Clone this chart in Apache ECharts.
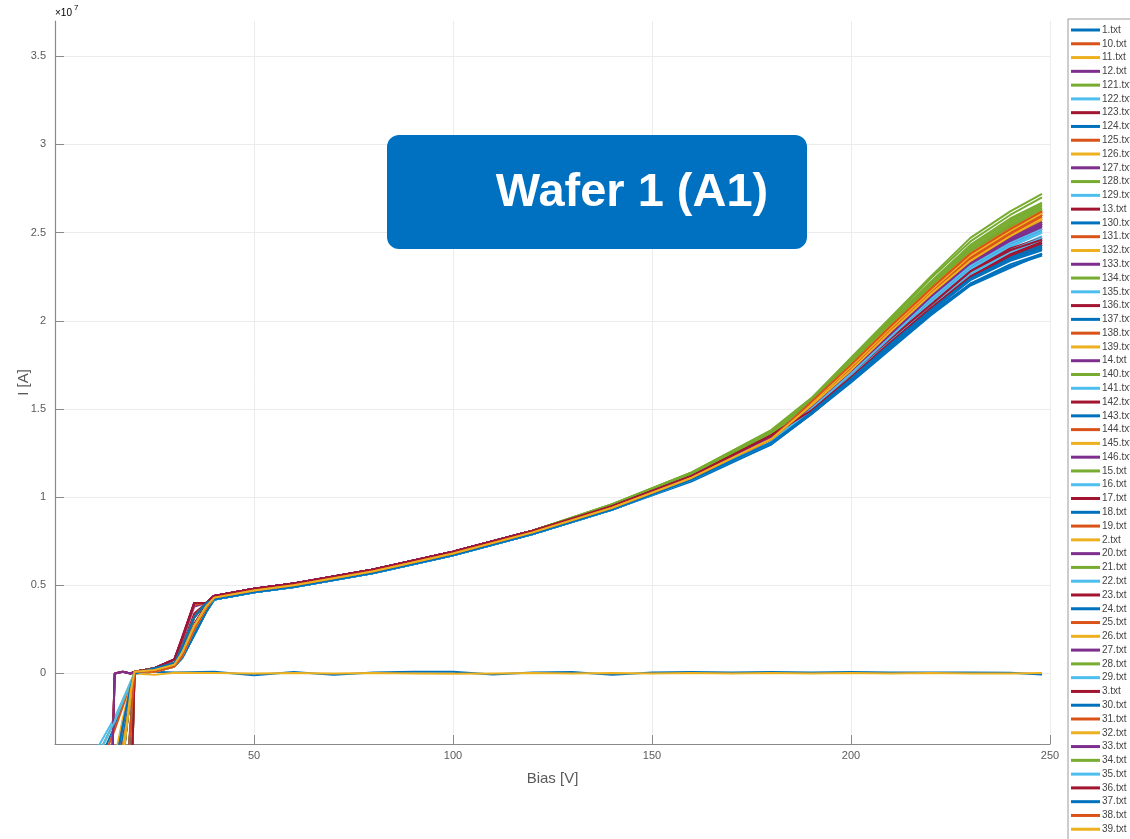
<!DOCTYPE html>
<html>
<head>
<meta charset="utf-8">
<title>Wafer 1 (A1) – I-V curves</title>
<script src="https://cdn.jsdelivr.net/npm/echarts@6/dist/echarts.min.js"></script>
<style>
  html, body { margin: 0; padding: 0; background: #ffffff; }
  #chart { width: 1130px; height: 839px; }
</style>
</head>
<body>
<div id="chart"></div>
<script>
// Measurement files, in the order the legend lists them
const fileNames = [
  '1.txt','10.txt','11.txt','12.txt','121.txt','122.txt','123.txt','124.txt','125.txt','126.txt',
  '127.txt','128.txt','129.txt','13.txt','130.txt','131.txt','132.txt','133.txt','134.txt','135.txt',
  '136.txt','137.txt','138.txt','139.txt','14.txt','140.txt','141.txt','142.txt','143.txt','144.txt',
  '145.txt','146.txt','15.txt','16.txt','17.txt','18.txt','19.txt','2.txt','20.txt','21.txt',
  '22.txt','23.txt','24.txt','25.txt','26.txt','27.txt','28.txt','29.txt','3.txt','30.txt',
  '31.txt','32.txt','33.txt','34.txt','35.txt','36.txt','37.txt','38.txt','39.txt'
];

// Bias points [V] of the working devices
const bias = [10, 15, 17, 19, 20, 25, 30, 32, 35, 38, 40, 50, 60, 80, 100, 120, 140, 160, 180, 190, 200, 210, 220, 230, 240, 248];

// Current [x1e7 A], one row per file (null = device without breakdown curve, see below)
const current = [
  [-0.50,-0.27,-0.16,-0.05,0.00, 0.02,0.04,0.09,0.22,0.35, 0.42,0.46,0.49,0.57,0.67,0.79,0.93,1.10,1.31, 1.47,1.66,1.85,2.04,2.21,2.31,2.37],
  [-1.20,-0.55,-0.30,-0.08,0.01, 0.02,0.05,0.12,0.27,0.38, 0.43,0.47,0.50,0.58,0.68,0.80,0.94,1.11,1.33, 1.53,1.74,1.96,2.17,2.37,2.51,2.61],
  [-2.50,-1.20,-0.50,-0.10,0.01, 0.01,0.04,0.10,0.25,0.37, 0.43,0.47,0.50,0.58,0.68,0.80,0.94,1.11,1.32, 1.51,1.71,1.93,2.14,2.33,2.47,2.57],
  [-4.00,0.00,0.01,0.00,0.01, 0.03,0.08,0.20,0.40,0.40, 0.44,0.48,0.51,0.59,0.69,0.81,0.95,1.12,1.34, 1.51,1.71,1.92,2.13,2.32,2.46,2.55],
  [-1.80,-0.80,-0.42,-0.15,0.00, 0.03,0.06,0.15,0.32,0.40, 0.43,0.47,0.50,0.58,0.68,0.80,0.95,1.13,1.37, 1.55,1.76,1.98,2.20,2.40,2.54,2.63],
  [-3.00,-1.50,-0.90,-0.30,0.01, 0.02,0.05,0.12,0.27,0.38, 0.42,0.46,0.49,0.57,0.67,0.79,0.93,1.10,1.31, 1.49,1.69,1.89,2.09,2.27,2.40,2.48],
  [-3.00,-2.00,-1.50,-0.80,0.01, 0.03,0.06,0.15,0.32,0.40, 0.44,0.48,0.51,0.59,0.69,0.81,0.95,1.12,1.35, 1.50,1.69,1.89,2.08,2.26,2.38,2.45],
  [-1.30,-0.60,-0.32,-0.09,0.00, 0.02,0.04,0.09,0.22,0.35, 0.42,0.46,0.49,0.57,0.67,0.79,0.93,1.10,1.31, 1.48,1.67,1.87,2.06,2.24,2.35,2.42],
  [-2.40,-1.10,-0.48,-0.10,0.01, 0.02,0.05,0.12,0.27,0.38, 0.43,0.47,0.50,0.58,0.68,0.80,0.94,1.11,1.33, 1.54,1.75,1.97,2.18,2.38,2.52,2.62],
  [-1.90,-0.85,-0.44,-0.14,0.00, 0.01,0.04,0.10,0.25,0.37, 0.43,0.47,0.50,0.58,0.68,0.80,0.94,1.11,1.33, 1.52,1.72,1.94,2.15,2.34,2.49,2.59],
  [-3.00,-1.40,-0.85,-0.28,0.01, 0.03,0.08,0.19,0.38,0.40, 0.44,0.48,0.51,0.59,0.69,0.81,0.95,1.12,1.34, 1.50,1.70,1.91,2.12,2.31,2.44,2.53],
  [-1.10,-0.50,-0.28,-0.07,0.01, 0.03,0.06,0.15,0.32,0.40, 0.43,0.47,0.50,0.58,0.68,0.80,0.95,1.13,1.37, 1.55,1.77,1.99,2.21,2.42,2.57,2.66],
  [-2.60,-1.25,-0.52,-0.11,0.01, 0.02,0.05,0.12,0.27,0.38, 0.43,0.47,0.50,0.58,0.68,0.80,0.94,1.11,1.33, 1.50,1.70,1.90,2.11,2.30,2.43,2.51],
  [-4.20,0.00,0.01,0.00,0.01, 0.03,0.06,0.16,0.34,0.40, 0.44,0.48,0.51,0.59,0.69,0.81,0.95,1.12,1.35, 1.49,1.68,1.88,2.07,2.25,2.36,2.43],
  [-0.55,-0.30,-0.18,-0.06,0.00, 0.01,0.04,0.10,0.25,0.37, 0.42,0.46,0.49,0.57,0.67,0.79,0.93,1.09,1.30, 1.47,1.65,1.84,2.03,2.20,2.30,2.38],
  [-3.20,-2.10,-1.60,-0.85,0.01, 0.02,0.05,0.12,0.27,0.38, 0.43,0.47,0.50,0.58,0.68,0.80,0.94,1.11,1.33, 1.52,1.73,1.95,2.16,2.35,2.50,2.60],
  [-1.20,-0.55,-0.30,-0.08,0.01, 0.02,0.04,0.09,0.22,0.35, 0.43,0.47,0.50,0.58,0.68,0.80,0.94,1.11,1.33, 1.53,1.74,1.96,2.17,2.36,2.50,2.60],
  [-1.80,-0.80,-0.42,-0.15,0.00, 0.03,0.08,0.20,0.40,0.40, 0.44,0.48,0.51,0.59,0.69,0.81,0.95,1.12,1.34, 1.51,1.71,1.92,2.13,2.33,2.47,2.56],
  [-3.00,-1.50,-0.90,-0.30,0.01, 0.03,0.06,0.15,0.32,0.40, 0.43,0.47,0.50,0.58,0.68,0.81,0.96,1.14,1.38, 1.56,1.79,2.02,2.25,2.47,2.62,2.72],
  [-2.50,-1.20,-0.50,-0.10,0.01, 0.01,0.04,0.10,0.25,0.37, 0.42,0.46,0.49,0.57,0.67,0.79,0.93,1.10,1.31, 1.49,1.68,1.88,2.08,2.26,2.39,2.46],
  [-1.40,-0.65,-0.34,-0.09,0.01, 0.02,0.05,0.12,0.28,0.39, 0.44,0.48,0.51,0.59,0.69,0.81,0.95,1.12,1.35, 1.50,1.70,1.90,2.09,2.28,2.40,2.47],
  [-2.30,-1.10,-0.47,-0.10,0.00, 0.02,0.04,0.09,0.22,0.35, 0.42,0.46,0.49,0.57,0.67,0.79,0.93,1.10,1.31, 1.48,1.67,1.86,2.05,2.23,2.34,2.40],
  [-0.60,-0.32,-0.19,-0.06,0.00, 0.03,0.06,0.15,0.32,0.40, 0.43,0.47,0.50,0.58,0.68,0.80,0.94,1.11,1.34, 1.54,1.75,1.97,2.19,2.39,2.53,2.62],
  [-2.90,-1.45,-0.88,-0.29,0.01, 0.02,0.05,0.12,0.27,0.38, 0.43,0.47,0.50,0.58,0.68,0.80,0.94,1.11,1.33, 1.52,1.72,1.94,2.15,2.34,2.48,2.58],
  [-3.00,-2.00,-1.50,-0.80,0.01, 0.01,0.04,0.10,0.25,0.37, 0.44,0.48,0.51,0.59,0.69,0.81,0.95,1.12,1.34, 1.50,1.70,1.91,2.12,2.31,2.45,2.54],
  [-1.20,-0.55,-0.30,-0.08,0.01, 0.03,0.06,0.15,0.32,0.40, 0.43,0.47,0.50,0.58,0.68,0.80,0.95,1.13,1.36, 1.54,1.75,1.97,2.19,2.39,2.53,2.63],
  [-1.70,-0.75,-0.40,-0.14,0.00, 0.02,0.04,0.09,0.22,0.35, 0.42,0.46,0.49,0.57,0.67,0.79,0.93,1.10,1.31, 1.50,1.70,1.90,2.11,2.30,2.42,2.50],
  [-2.50,-1.20,-0.50,-0.10,0.01, 0.02,0.05,0.12,0.28,0.39, 0.44,0.48,0.51,0.59,0.69,0.81,0.95,1.12,1.35, 1.50,1.69,1.89,2.09,2.27,2.40,2.46],
  null,
  [-3.80,0.00,0.01,0.00,0.01, 0.03,0.08,0.20,0.39,0.40, 0.43,0.47,0.50,0.58,0.68,0.80,0.94,1.11,1.33, 1.52,1.73,1.94,2.16,2.35,2.49,2.59],
  [-1.00,-0.48,-0.26,-0.07,0.01, 0.01,0.04,0.10,0.25,0.37, 0.43,0.47,0.50,0.58,0.68,0.80,0.94,1.11,1.33, 1.52,1.72,1.93,2.14,2.33,2.47,2.56],
  [-3.10,-1.55,-0.92,-0.31,0.01, 0.03,0.06,0.15,0.32,0.40, 0.44,0.48,0.51,0.59,0.69,0.81,0.95,1.12,1.34, 1.51,1.71,1.92,2.13,2.32,2.45,2.54],
  [-2.50,-1.20,-0.50,-0.10,0.01, 0.02,0.05,0.12,0.27,0.38, 0.43,0.47,0.50,0.58,0.68,0.81,0.96,1.14,1.37, 1.55,1.77,2.00,2.22,2.43,2.58,2.67],
  [-0.45,-0.25,-0.15,-0.05,0.00, 0.02,0.04,0.09,0.22,0.35, 0.42,0.46,0.49,0.57,0.67,0.79,0.93,1.10,1.31, 1.49,1.69,1.89,2.09,2.27,2.39,2.46],
  [-3.00,-2.00,-1.50,-0.75,0.01, 0.03,0.06,0.15,0.32,0.40, 0.44,0.48,0.51,0.59,0.69,0.81,0.95,1.12,1.35, 1.49,1.68,1.88,2.07,2.25,2.37,2.44],
  [-1.25,-0.58,-0.31,-0.08,0.00, 0.01,0.04,0.10,0.25,0.37, 0.42,0.46,0.49,0.57,0.67,0.79,0.93,1.10,1.31, 1.48,1.67,1.87,2.06,2.24,2.35,2.41],
  [-1.80,-0.80,-0.42,-0.15,0.00, 0.02,0.05,0.12,0.27,0.38, 0.43,0.47,0.50,0.58,0.68,0.80,0.94,1.11,1.33, 1.54,1.75,1.97,2.18,2.38,2.52,2.61],
  null,
  [-2.50,-1.20,-0.50,-0.10,0.01, 0.03,0.08,0.20,0.40,0.40, 0.44,0.48,0.51,0.59,0.69,0.81,0.95,1.12,1.34, 1.50,1.70,1.91,2.12,2.31,2.44,2.52],
  [-3.00,-1.50,-0.90,-0.30,0.01, 0.03,0.06,0.15,0.32,0.40, 0.43,0.47,0.50,0.58,0.68,0.80,0.95,1.13,1.36, 1.54,1.76,1.98,2.20,2.40,2.55,2.64],
  [-1.20,-0.55,-0.30,-0.08,0.01, 0.02,0.05,0.12,0.27,0.38, 0.42,0.46,0.49,0.57,0.67,0.79,0.93,1.10,1.31, 1.49,1.69,1.90,2.10,2.29,2.42,2.50],
  [-4.00,0.00,0.01,0.00,0.01, 0.03,0.08,0.21,0.40,0.40, 0.44,0.48,0.51,0.59,0.69,0.81,0.95,1.12,1.35, 1.50,1.70,1.90,2.09,2.28,2.41,2.47],
  [-2.50,-1.20,-0.50,-0.10,0.00, 0.02,0.04,0.09,0.22,0.35, 0.42,0.46,0.49,0.57,0.67,0.79,0.93,1.10,1.31, 1.48,1.67,1.87,2.06,2.24,2.36,2.43],
  [-3.00,-1.50,-0.90,-0.30,0.01, 0.01,0.04,0.10,0.25,0.37, 0.43,0.47,0.50,0.58,0.68,0.80,0.94,1.11,1.33, 1.52,1.73,1.95,2.16,2.36,2.50,2.60],
  [-0.50,-0.27,-0.16,-0.05,0.00, 0.02,0.05,0.12,0.27,0.38, 0.43,0.47,0.50,0.58,0.68,0.80,0.94,1.11,1.33, 1.53,1.74,1.96,2.17,2.37,2.51,2.61],
  [-1.80,-0.80,-0.42,-0.15,0.00, 0.03,0.06,0.15,0.32,0.40, 0.44,0.48,0.51,0.59,0.69,0.81,0.95,1.12,1.34, 1.52,1.72,1.93,2.14,2.33,2.47,2.56],
  [-3.00,-2.00,-1.50,-0.80,0.01, 0.02,0.05,0.12,0.27,0.38, 0.43,0.47,0.50,0.58,0.68,0.80,0.95,1.13,1.37, 1.55,1.77,1.99,2.21,2.41,2.56,2.65],
  [-1.20,-0.55,-0.30,-0.08,0.01, 0.01,0.04,0.10,0.25,0.37, 0.42,0.46,0.49,0.57,0.67,0.79,0.93,1.10,1.31, 1.49,1.69,1.89,2.09,2.27,2.40,2.47],
  [-2.50,-1.20,-0.50,-0.10,0.01, 0.03,0.06,0.15,0.32,0.40, 0.44,0.48,0.51,0.59,0.69,0.81,0.95,1.12,1.35, 1.50,1.70,1.90,2.09,2.28,2.40,2.46],
  [-3.00,-1.50,-0.90,-0.30,0.00, 0.02,0.04,0.09,0.22,0.35, 0.42,0.46,0.49,0.57,0.67,0.79,0.93,1.10,1.30, 1.47,1.66,1.85,2.04,2.21,2.32,2.38],
  [-1.20,-0.55,-0.30,-0.08,0.01, 0.02,0.05,0.12,0.27,0.38, 0.43,0.47,0.50,0.58,0.68,0.80,0.94,1.11,1.33, 1.52,1.72,1.94,2.15,2.34,2.48,2.58],
  [-1.80,-0.80,-0.42,-0.15,0.00, 0.01,0.04,0.10,0.25,0.37, 0.43,0.47,0.50,0.58,0.68,0.80,0.94,1.11,1.33, 1.53,1.75,1.97,2.18,2.38,2.52,2.62],
  [-4.00,0.00,0.01,0.00,0.01, 0.03,0.08,0.20,0.40,0.40, 0.44,0.48,0.51,0.59,0.69,0.81,0.95,1.12,1.34, 1.51,1.71,1.92,2.13,2.32,2.46,2.55],
  [-2.50,-1.20,-0.50,-0.10,0.01, 0.03,0.06,0.15,0.32,0.40, 0.43,0.47,0.50,0.58,0.68,0.81,0.96,1.14,1.38, 1.56,1.78,2.01,2.24,2.45,2.60,2.70],
  [-0.50,-0.27,-0.16,-0.05,0.00, 0.02,0.05,0.12,0.27,0.38, 0.42,0.46,0.49,0.57,0.67,0.79,0.93,1.10,1.31, 1.50,1.70,1.91,2.12,2.31,2.44,2.52],
  [-3.00,-2.00,-1.50,-0.80,0.01, 0.03,0.08,0.20,0.40,0.40, 0.44,0.48,0.51,0.59,0.69,0.81,0.95,1.12,1.35, 1.49,1.68,1.88,2.07,2.25,2.37,2.44],
  [-1.20,-0.55,-0.30,-0.08,0.00, 0.03,0.06,0.15,0.32,0.40, 0.42,0.46,0.49,0.57,0.67,0.79,0.93,1.10,1.31, 1.48,1.67,1.87,2.06,2.24,2.35,2.41],
  [-3.00,-1.50,-0.90,-0.30,0.01, 0.01,0.04,0.10,0.25,0.37, 0.43,0.47,0.50,0.58,0.68,0.80,0.94,1.11,1.33, 1.54,1.75,1.97,2.18,2.38,2.52,2.62],
  [-2.50,-1.20,-0.50,-0.10,0.01, 0.02,0.05,0.12,0.27,0.38, 0.43,0.47,0.50,0.58,0.68,0.80,0.94,1.11,1.33, 1.52,1.72,1.94,2.15,2.34,2.48,2.58]
];

// Devices that stay near zero current over the whole sweep
const deadBias = [10, 15, 17, 19, 20, 25, 30, 40, 50, 60, 70, 80, 90, 100, 110, 120, 130, 140, 150, 160, 170, 180, 190, 200, 210, 220, 230, 240, 248];
const dead143 = [-1.6, -0.7, -0.35, -0.06, 0.000, 0.010, 0.005, 0.010, -0.010, 0.008, -0.008, 0.006, 0.010, 0.010, -0.006, 0.005, 0.008, -0.008, 0.006, 0.008, 0.005, 0.008, 0.006, 0.008, 0.006, 0.005, 0.006, 0.004, -0.006];
const dead2   = [-2.2, -0.9, -0.50, -0.12, 0.000, -0.008, 0.004, 0.002, 0.000, 0.002, 0.000, 0.002, 0.000, -0.002, 0.000, 0.002, 0.000, 0.002, 0.000, 0.002, 0.000, 0.002, 0.000, 0.002, 0.000, 0.002, 0.000, 0.000, 0.002];

// Y tick values [x1e7 A] and X tick values [V]
const yTicks = [0, 0.5, 1, 1.5, 2, 2.5, 3, 3.5];
const xTicks = [50, 100, 150, 200, 250];

// MATLAB default line colour order
const palette = ['#0072BD', '#D95319', '#EDB120', '#7E2F8E', '#77AC30', '#4DBEEE', '#A2142F'];

const deadRows = { '143.txt': dead143, '2.txt': dead2 };

const series = fileNames.map((name, i) => {
  let data;
  if (current[i]) {
    data = bias.map((b, k) => [b, current[i][k]]);
  } else {
    data = deadBias.map((b, k) => [b, deadRows[name][k]]);
  }
  return {
    name: name,
    type: 'line',
    data: data,
    symbol: 'none',
    showSymbol: false,
    clip: true,
    lineStyle: { width: 2, color: palette[i % palette.length] },
    itemStyle: { color: palette[i % palette.length] },
    emphasis: { disabled: true }
  };
});

const chart = echarts.init(document.getElementById('chart'), null, { renderer: 'canvas' });

const axisGray = '#8a8a8a';
const labelGray = '#5a5a5a';
const fontFamily = 'Liberation Sans, Arial, sans-serif';

chart.setOption({
  animation: false,
  backgroundColor: '#ffffff',
  color: palette,
  grid: { left: 55, right: 80, top: 21, bottom: 95, containLabel: false },
  xAxis: {
    type: 'value',
    min: 0,
    max: 250,
    interval: 50,
    name: 'Bias [V]',
    nameLocation: 'middle',
    nameGap: 27,
    nameTextStyle: { color: labelGray, fontSize: 15, fontFamily: fontFamily },
    axisLine: { show: true, onZero: false, lineStyle: { color: axisGray, width: 1.2 } },
    axisTick: { show: true, inside: true, length: 9, customValues: xTicks, lineStyle: { color: axisGray } },
    axisLabel: { customValues: xTicks, color: labelGray, fontSize: 11, margin: 6, fontFamily: fontFamily },
    splitLine: { show: true, lineStyle: { color: '#ececec', width: 1 } }
  },
  yAxis: {
    type: 'value',
    min: -0.4,
    max: 3.7,
    name: 'I [A]',
    nameLocation: 'middle',
    nameGap: 24,
    nameMoveOverlap: false,
    nameRotate: 90,
    nameTextStyle: { color: labelGray, fontSize: 15, fontFamily: fontFamily },
    axisLine: { show: true, onZero: false, lineStyle: { color: axisGray, width: 1.2 } },
    axisTick: { show: true, inside: true, length: 9, customValues: yTicks, lineStyle: { color: axisGray } },
    axisLabel: { customValues: yTicks, color: labelGray, fontSize: 11, margin: 9, fontFamily: fontFamily,
      formatter: v => String(v) },
    splitLine: { show: true, lineStyle: { color: '#ececec', width: 1 } }
  },
  legend: {
    type: 'plain',
    orient: 'vertical',
    left: 1068,
    top: 19,
    width: 200,
    height: 1000,
    padding: [5, 2, 5, 3],
    itemGap: 1.78,
    itemWidth: 29,
    itemHeight: 3,
    icon: 'rect',
    borderColor: '#9a9a9a',
    borderWidth: 1,
    selectedMode: false,
    textStyle: { color: '#444444', fontSize: 10, lineHeight: 12, padding: [0, 0, 0, -3], fontFamily: fontFamily },
    data: fileNames
  },
  graphic: [
    {
      type: 'text',
      left: 55,
      top: 4,
      style: {
        text: '{m|×10}{e|7}',
        rich: {
          m: { fontSize: 10, color: labelGray, fontFamily: fontFamily, padding: [6, 0, 0, 0] },
          e: { fontSize: 8, color: labelGray, fontFamily: fontFamily, padding: [0, 0, 4, 2] }
        }
      }
    },
    {
      type: 'rect',
      shape: { x: 387, y: 135, width: 420, height: 114, r: 12 },
      style: { fill: '#0070C0' },
      z: 100
    },
    {
      type: 'text',
      x: 632,
      y: 193,
      style: {
        text: 'Wafer 1 (A1)',
        fill: '#ffffff',
        font: 'bold 47px "Liberation Sans", Arial, sans-serif',
        align: 'center',
        verticalAlign: 'middle'
      },
      z: 101
    }
  ],
  series: series
});
</script>
</body>
</html>
